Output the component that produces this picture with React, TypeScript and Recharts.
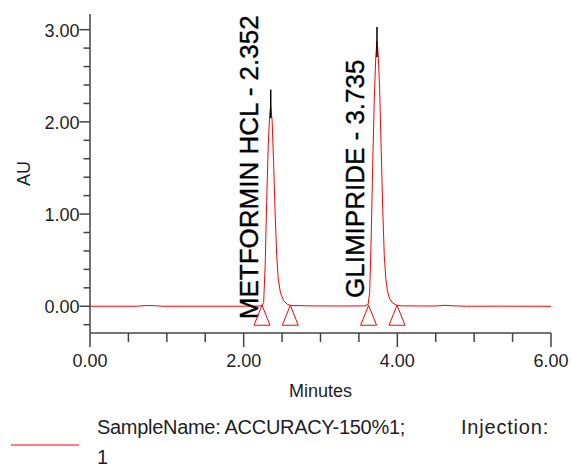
import React from 'react';
import {
  ComposedChart, Line, Scatter, XAxis, YAxis, ReferenceLine, Legend,
} from 'recharts';

// Chromatogram trace (time in minutes, absorbance in AU)
const chromTime = [
  0.0, 0.3, 0.6, 0.72, 0.85, 0.95, 1.4, 1.9, 2.2, 2.24, 2.26, 2.28, 2.3, 2.32, 2.34, 2.352,
  2.37, 2.39, 2.41, 2.43, 2.45, 2.48, 2.52, 2.57, 2.62, 2.9, 3.3, 3.58, 3.62, 3.64, 3.66,
  3.68, 3.7, 3.72, 3.735, 3.75, 3.77, 3.79, 3.81, 3.83, 3.85, 3.87, 3.9, 3.94, 3.99, 4.05,
  4.3, 4.5, 4.62, 4.75, 4.9, 5.3, 5.7, 6.0,
];
const chromAU = [
  0.0, 0.0, 0.0, 0.008, 0.006, 0.0, 0.0, 0.0, 0.002, 0.01, 0.04, 0.45, 1.15, 1.75, 2.1, 2.16,
  2.02, 1.55, 1.0, 0.55, 0.3, 0.14, 0.06, 0.02, 0.008, 0.004, 0.003, 0.004, 0.02, 0.15, 0.75,
  1.55, 2.25, 2.72, 2.87, 2.75, 2.35, 1.7, 1.05, 0.55, 0.3, 0.17, 0.08, 0.035, 0.012, 0.005,
  0.003, 0.003, 0.01, 0.004, 0.0, 0.001, 0.0, 0.0,
];

// Integration markers (peak start / end)
const markerTime = [2.239, 2.607, 3.626, 3.996];
const markerAU = [0, 0, 0, 0];

// Peaks
const peakNames = ['METFORMIN HCL', 'GLIMIPRIDE'];
const peakRT = [2.352, 3.735];
const peakLabelAU = [-0.14, 0.09];
const apexLow = [2.04, 2.7];
const apexHigh = [2.35, 3.03];

// Axis ticks
const xTicks = [0, 0.5, 1, 1.5, 2, 2.5, 3, 3.5, 4, 4.5, 5, 5.5, 6];
const xMajor = [0, 2, 4, 6];
const yTicks = [-0.2, 0, 0.2, 0.4, 0.6, 0.8, 1, 1.2, 1.4, 1.6, 1.8, 2, 2.2, 2.4, 2.6, 2.8, 3];
const yMajor = [0, 1, 2, 3];

const legendLine1 = 'SampleName: ACCURACY-150%1;';
const legendLine1b = 'Injection:';
const legendLine2 = '1';

const chromData = chromTime.map((t, i) => ({ t, au: chromAU[i] }));
const markerData = markerTime.map((t, i) => ({ t, au: markerAU[i] }));
const labelData = peakNames.map((n, i) => ({
  t: peakRT[i],
  au: peakLabelAU[i],
  label: `${n} - ${peakRT[i].toFixed(3)}`,
}));

const FONT = '"Liberation Sans", Arial, sans-serif';
const AXIS = '#444';
const TXT = '#1e1e28';

const XTick = (props: any) => {
  const { x, y, payload } = props;
  const v = payload.value;
  const major = xMajor.some((m) => Math.abs(m - v) < 1e-6);
  return (
    <g>
      <line x1={x} x2={x} y1={y} y2={y + (major ? 14 : 9)} stroke={AXIS} strokeWidth={1.5} />
      {major && (
        <text x={x} y={y + 33.5} textAnchor="middle" fontFamily={FONT} fontSize={18} fill={TXT}>
          {v.toFixed(2)}
        </text>
      )}
    </g>
  );
};

const YTick = (props: any) => {
  const { x, y, payload } = props;
  const v = payload.value;
  const major = yMajor.some((m) => Math.abs(m - v) < 1e-6);
  return (
    <g>
      <line x1={x - (major ? 10.5 : 6.5)} x2={x} y1={y} y2={y} stroke={AXIS} strokeWidth={1.5} />
      {major && (
        <text x={x - 10.5} y={y + 7} textAnchor="end" fontFamily={FONT} fontSize={18} fill={TXT}>
          {v.toFixed(2)}
        </text>
      )}
    </g>
  );
};

const Triangle = (props: any) => {
  const { cx, cy } = props;
  return (
    <polygon
      points={`${cx},${cy - 1} ${cx - 8},${cy + 19} ${cx + 8},${cy + 19}`}
      fill="none"
      stroke="#ff0000"
      strokeWidth={1}
    />
  );
};

const PeakLabel = (props: any) => {
  const { cx, cy, payload } = props;
  const px = cx - 13;
  return (
    <text
      x={px}
      y={cy}
      transform={`rotate(-90 ${px} ${cy})`}
      textAnchor="start"
      fontFamily={FONT}
      fontSize={26}
      fill="#000"
      stroke="#000"
      strokeWidth={0.4}
    >
      {payload.label}
    </text>
  );
};

const AULabel = (props: any) => {
  const vb = props.viewBox || {};
  const x = (vb.x ?? 0) + 30;
  const y = (vb.y ?? 0) + (vb.height ?? 0) / 2;
  return (
    <text x={x} y={y} transform={`rotate(-90 ${x} ${y})`} textAnchor="middle" fontFamily={FONT} fontSize={18} fill={TXT}>
      AU
    </text>
  );
};

const LegendContent = () => (
  <svg width={571} height={70} style={{ display: 'block' }}>
    <line x1={11} x2={79} y1={47} y2={47} stroke="#ff0000" strokeWidth={1.2} />
    <text x={97} y={36} fontFamily={FONT} fontSize={20} letterSpacing={-0.3} fill={TXT}>{legendLine1}</text>
    <text x={461} y={36} fontFamily={FONT} fontSize={20} letterSpacing={0.8} fill={TXT}>{legendLine1b}</text>
    <text x={97} y={65.5} fontFamily={FONT} fontSize={20} fill={TXT}>{legendLine2}</text>
  </svg>
);

export default function App() {
  return (
    <div style={{ position: 'absolute', left: 0, top: 0, background: '#fff' }}>
      <ComposedChart
        width={571}
        height={468}
        margin={{ top: 14, right: 20, left: 0, bottom: 0 }}
      >
        <XAxis
          xAxisId="main"
          dataKey="t"
          type="number"
          domain={[0, 6]}
          ticks={xTicks}
          interval={0}
          allowDataOverflow
          height={65}
          tickSize={0}
          tickMargin={0}
          tickLine={false}
          axisLine={{ stroke: AXIS, strokeWidth: 1.5 }}
          tick={XTick}
          label={{ value: 'Minutes', position: 'insideBottom', offset: 1, fontFamily: FONT, fontSize: 18, fill: TXT }}
        />
        <XAxis
          xAxisId="top"
          orientation="top"
          type="number"
          domain={[0, 6]}
          height={0}
          tick={false}
          tickLine={false}
          axisLine={{ stroke: AXIS, strokeWidth: 1.5 }}
        />
        <YAxis
          yAxisId="main"
          dataKey="au"
          type="number"
          domain={[-0.29, 3.17]}
          ticks={yTicks}
          interval={0}
          allowDataOverflow
          width={90}
          tickSize={0}
          tickMargin={0}
          tickLine={false}
          axisLine={{ stroke: AXIS, strokeWidth: 1.5 }}
          tick={YTick}
          label={<AULabel />}
        />
        <YAxis
          yAxisId="right"
          orientation="right"
          type="number"
          domain={[-0.29, 3.17]}
          width={0}
          tick={false}
          tickLine={false}
          axisLine={{ stroke: AXIS, strokeWidth: 1.5 }}
        />
        <Scatter
          xAxisId="main"
          yAxisId="main"
          data={labelData}
          dataKey="au"
          shape={PeakLabel}
          isAnimationActive={false}
          legendType="none"
        />
        <Line
          xAxisId="main"
          yAxisId="main"
          data={chromData}
          dataKey="au"
          type="linear"
          stroke="#ff0000"
          strokeWidth={1}
          dot={false}
          activeDot={false}
          isAnimationActive={false}
        />
        {peakRT.map((rt, i) => (
          <ReferenceLine
            key={rt}
            xAxisId="main"
            yAxisId="main"
            segment={[{ x: rt, y: apexLow[i] }, { x: rt, y: apexHigh[i] }]}
            stroke="#000"
            strokeWidth={1.5}
          />
        ))}
        <Scatter
          xAxisId="main"
          yAxisId="main"
          data={markerData}
          dataKey="au"
          shape={Triangle}
          isAnimationActive={false}
          legendType="none"
        />
        <Legend
          verticalAlign="bottom"
          content={LegendContent}
          wrapperStyle={{ left: 0, top: 398, width: 571, height: 70 }}
        />
      </ComposedChart>
    </div>
  );
}
